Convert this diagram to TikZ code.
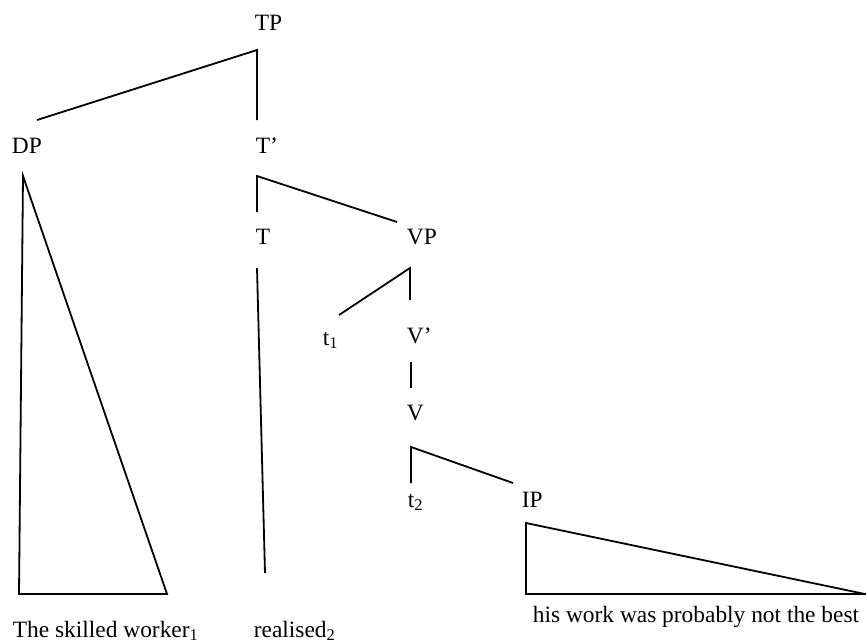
\documentclass[tikz,border=0pt]{standalone}
\usepackage{fontspec}
\setmainfont{Liberation Serif}
\usepackage{tikz}
\usetikzlibrary{positioning}

\begin{document}
\begin{tikzpicture}[x=0.5pt, y=-0.5pt, line width=0.9pt,
    lbl/.style={anchor=base west, inner sep=0pt, font=\fontsize{11.7}{14}\selectfont}]

\useasboundingbox (0,0) rectangle (866,643);

% Labels of the tree
\node[lbl] (TP) at (254,30) {TP};
\node[lbl] (DP) at (11,153) {DP};
\node[lbl] (Tbar) at (255,153) {T’};
\node[lbl] (T) at (255,244) {T};
\node[lbl] (VP) at (406,244) {VP};
\node[lbl] (t1) at (322,345) {t\textsubscript{1}};
\node[lbl] (Vbar) at (406,343) {V’};
\node[lbl] (V) at (406,420) {V};
\node[lbl] (t2) at (407,507) {t\textsubscript{2}};
\node[lbl] (IP) at (521,507) {IP};

% Words at the bottom
\node[lbl] (subj) at (12,637) {The skilled worker\textsubscript{1}};
\node[lbl] (verb) at (253,637) {realised\textsubscript{2}};
\node[lbl] (compl) at (532,622) {his work was probably not the best};

% Branch points
\coordinate (TP-j) at (257,50);
\coordinate (DP-t) at (37,120);
\coordinate (Tbar-t) at (257,120);
\coordinate (Tbar-j) at (257,176);
\coordinate (T-t) at (257,212);
\coordinate (VP-t) at (397,222);
\coordinate (VP-j) at (410,268);
\coordinate (t1-t) at (339,315);
\coordinate (Vbar-t) at (410,300);
\coordinate (Vbar-j) at (411,362);
\coordinate (V-t) at (411,388);
\coordinate (V-j) at (411,447);
\coordinate (t2-t) at (411,483);
\coordinate (IP-t) at (513,483);

% Branches
\draw (DP-t) -- (TP-j) -- (Tbar-t);
\draw (T-t) -- (Tbar-j) -- (VP-t);
\draw (t1-t) -- (VP-j) -- (Vbar-t);
\draw (Vbar-j) -- (V-t);
\draw (t2-t) -- (V-j) -- (IP-t);

% Triangles and the line down to the verb
\draw (23,176) -- (19,594) -- (167,594) -- cycle;
\draw (257,268) -- (265,573);
\draw (526,523) -- (526,594) -- (865,594) -- cycle;

\end{tikzpicture}
\end{document}
